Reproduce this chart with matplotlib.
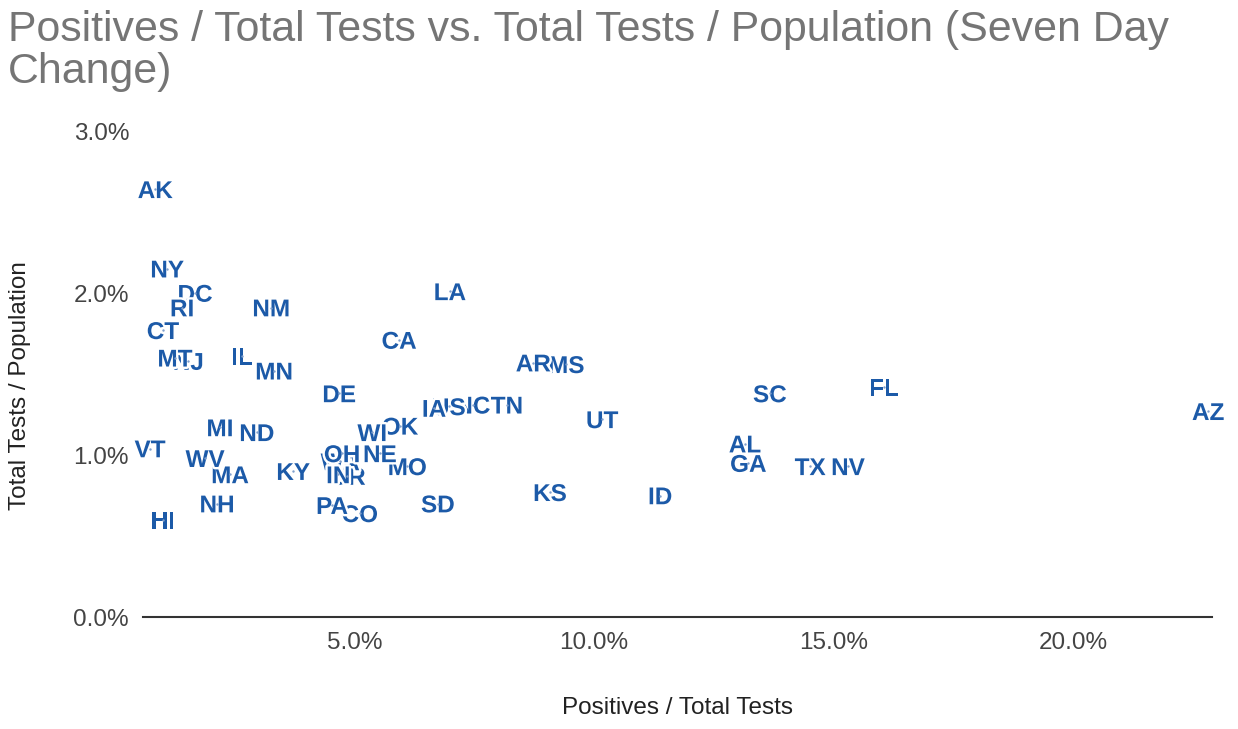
import matplotlib
matplotlib.use("Agg")
import matplotlib.pyplot as plt
import matplotlib.patheffects as pe
from matplotlib.ticker import FuncFormatter, FixedLocator

# ---- data (percent values) ----
states = ["AK", "NY", "DC", "RI", "NJ", "MT", "CT", "NM", "IL", "MN",
          "LA", "CA", "DE", "MS", "AR", "NC", "US", "IA", "TN", "UT",
          "SC", "FL", "AZ", "GA", "AL", "TX", "NV", "KS", "ID", "SD",
          "MO", "OK", "WI", "OR", "WA", "IN", "OH", "NE", "CO", "PA",
          "KY", "MI", "ND", "VT", "MA", "WV", "NH", "HI"]
positivity = [0.84, 1.09, 1.67, 1.40, 1.53, 1.25, 1.00, 3.26, 2.65, 3.32,
              6.99, 5.93, 4.68, 9.42, 8.73, 7.47, 6.97, 6.66, 8.18, 10.17,
              13.67, 16.05, 22.82, 13.22, 13.15, 14.51, 15.30, 9.08, 11.38, 6.74,
              6.10, 5.95, 5.37, 4.85, 4.70, 4.66, 4.74, 5.53, 5.11, 4.53,
              3.72, 2.19, 2.96, 0.73, 2.40, 1.88, 2.13, 1.00]
tests_per_pop = [2.64, 2.15, 2.00, 1.91, 1.58, 1.60, 1.77, 1.91, 1.61, 1.52,
                 2.01, 1.71, 1.38, 1.56, 1.57, 1.31, 1.30, 1.29, 1.31, 1.22,
                 1.38, 1.42, 1.27, 0.95, 1.07, 0.93, 0.93, 0.77, 0.75, 0.70,
                 0.93, 1.18, 1.14, 0.87, 0.96, 0.88, 1.01, 1.01, 0.64, 0.69,
                 0.90, 1.17, 1.14, 1.04, 0.88, 0.98, 0.70, 0.60]
x_ticks = [5.0, 10.0, 15.0, 20.0]
y_ticks = [0.0, 1.0, 2.0, 3.0]

title = "Positives / Total Tests vs. Total Tests / Population (Seven Day\nChange)"
x_title = "Positives / Total Tests"
y_title = "Total Tests / Population"

plt.rcParams["font.family"] = ["Liberation Sans", "DejaVu Sans"]

W, H = 1238, 729
fig = plt.figure(figsize=(W / 100, H / 100), dpi=100)
fig.patch.set_facecolor("white")

ax = fig.add_axes([143 / W, 1 - 617 / H, (1212 - 143) / W, (617 - 131) / H])
ax.set_xlim(0.585, 22.9)
ax.set_ylim(0, 3.0)

label_color = "#1c5aa8"
ax.scatter(positivity, tests_per_pop, s=3, color="#7f9fcc", zorder=5, linewidths=0)
for i, (s, xv, yv) in enumerate(zip(states, positivity, tests_per_pop)):
    ax.annotate(s, (xv, yv), xytext=(0, -6.3), textcoords="offset points",
                ha="center", va="baseline", fontsize=17.5, fontweight="bold",
                color=label_color, zorder=3 + i * 0.001,
                path_effects=[pe.withStroke(linewidth=3.5, foreground="white")])

for side in ["top", "right", "left"]:
    ax.spines[side].set_visible(False)
ax.spines["bottom"].set_color("#333333")
ax.spines["bottom"].set_linewidth(1.5)

ax.xaxis.set_major_locator(FixedLocator(x_ticks))
ax.yaxis.set_major_locator(FixedLocator(y_ticks))
fmt = FuncFormatter(lambda v, p: f"{v:.1f}%")
ax.xaxis.set_major_formatter(fmt)
ax.yaxis.set_major_formatter(fmt)
ax.tick_params(axis="both", length=0, labelsize=17.5, labelcolor="#444444")
ax.tick_params(axis="x", pad=11)
ax.tick_params(axis="y", pad=10)

fig.text(678 / W, 1 - 708 / H, x_title, ha="center", va="center",
         fontsize=17.5, color="#222222")
fig.text(20 / W, 1 - 386 / H, y_title, ha="center", va="center",
         rotation=90, fontsize=17.5, color="#222222")
fig.text(8 / W, 1 - 10 / H, title, ha="left", va="top", fontsize=30.9,
         color="#757575", linespacing=1.07)

fig.savefig("out.png", dpi=100, facecolor="white")
